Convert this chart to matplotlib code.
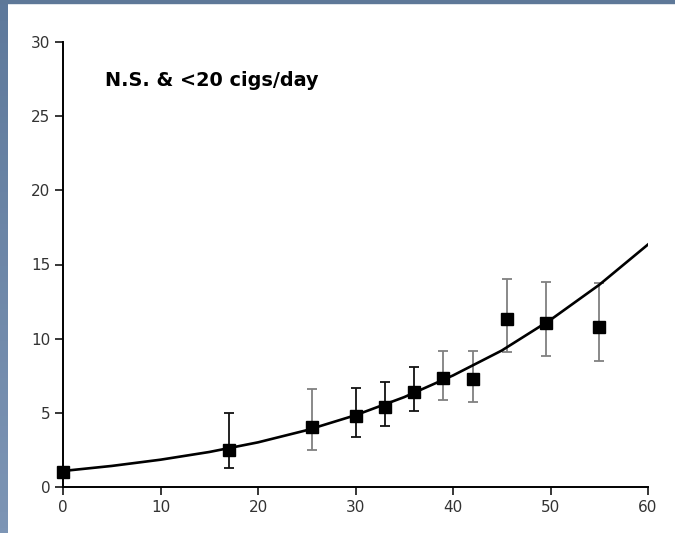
import numpy as np
import matplotlib
matplotlib.use("Agg")
import matplotlib.pyplot as plt

plt.rcParams['font.family'] = ['DejaVu Sans']

# measured points
age = [0, 17, 25.5, 30, 33, 36, 39, 42, 45.5, 49.5, 55]
rate = [1.0, 2.5, 4.05, 4.8, 5.4, 6.4, 7.35, 7.3, 11.3, 11.05, 10.8]
err_hi = [1.0, 5.0, 6.6, 6.7, 7.1, 8.1, 9.2, 9.2, 14.0, 13.8, 13.75]
err_lo = [1.0, 1.3, 2.5, 3.4, 4.1, 5.1, 5.85, 5.7, 9.1, 8.8, 8.5]
dark_bar = [True, True, False, True, True, True, False, False, False, False, False]

# fitted curve
fit_x = [0, 5, 10, 15, 20, 25, 30, 35, 40, 45, 50, 55, 60]
fit_y = [1.08, 1.42, 1.84, 2.36, 3.01, 3.83, 4.84, 6.06, 7.52, 9.2, 11.27, 13.63, 16.35]

label = "N.S. & <20 cigs/day"
xticks = [0, 10, 20, 30, 40, 50, 60]
yticks = [0, 5, 10, 15, 20, 25, 30]

fig = plt.figure(figsize=(6.75, 5.33), dpi=100)
fig.patch.set_facecolor('white')

# blue frame strips (left gradient + top)
strip = fig.add_axes([0, 0, 8 / 675, 1])
grad = np.linspace(0, 1, 100).reshape(-1, 1)
cmap = matplotlib.colors.LinearSegmentedColormap.from_list('s', ['#5e799b', '#7d95b5'])
strip.imshow(grad, aspect='auto', cmap=cmap, extent=[0, 1, 0, 1], origin='upper')
strip.axis('off')
fig.patches.append(matplotlib.patches.Rectangle((0, 1 - 3 / 533), 1, 3 / 533,
                                                transform=fig.transFigure,
                                                color='#5e7898', zorder=5))

ax = fig.add_axes([63 / 675, 1 - 487 / 533, 585 / 675, 445 / 533])

ax.plot(fit_x, fit_y, color='black', lw=1.9, zorder=2, solid_joinstyle='round')

for x, y, lo, hi, dark in zip(age, rate, err_lo, err_hi, dark_bar):
    if lo == hi:
        continue
    c = '#111111' if dark else '#808080'
    ax.errorbar([x], [y], yerr=[[y - lo], [hi - y]], fmt='none', ecolor=c,
                elinewidth=1.3, capsize=3.8, capthick=1.3, zorder=1)

ax.plot(age, rate, 's', color='black', ms=8.5, zorder=3, clip_on=False)

ax.text(4.3, 27.4, label, fontsize=13.9, fontweight='bold', ha='left', va='center')

ax.set_xlim(0, 60)
ax.set_ylim(0, 30)
ax.set_xticks(xticks)
ax.set_yticks(yticks)
ax.spines['top'].set_visible(False)
ax.spines['right'].set_visible(False)
for s in ['left', 'bottom']:
    ax.spines[s].set_linewidth(1.4)
ax.tick_params(direction='out', length=5.5, width=1.1, labelsize=11,
               labelcolor='#333333', pad=3.5)

fig.savefig('out.png', dpi=100)
